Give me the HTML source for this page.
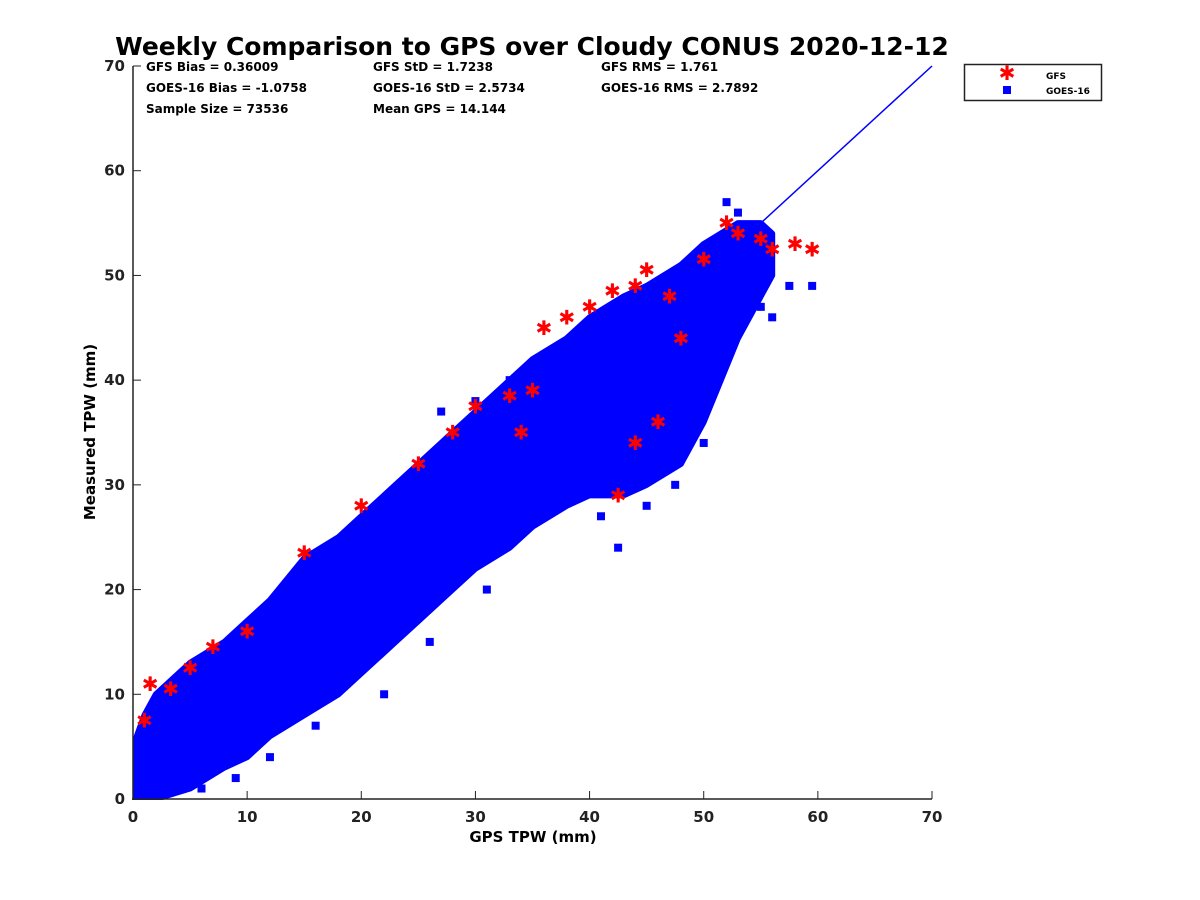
<!DOCTYPE html>
<html><head><meta charset="utf-8"><style>
body{margin:0;background:#fff;}
svg{display:block;font-family:"DejaVu Sans","Liberation Sans",sans-serif;font-weight:bold;}
</style></head><body>
<svg id="chart" width="1200" height="900">
<defs><clipPath id="pc"><rect x="133" y="40" width="900" height="760"/></clipPath></defs>
<text x="532" y="55" text-anchor="middle" font-size="25">Weekly Comparison to GPS over Cloudy CONUS 2020-12-12</text>
<g id="plot" clip-path="url(#pc)"></g>
<g id="axes"></g>
<g font-size="12">
<text x="146" y="71">GFS Bias = 0.36009</text>
<text x="146" y="92">GOES-16 Bias = -1.0758</text>
<text x="146" y="113">Sample Size = 73536</text>
<text x="373" y="71">GFS StD = 1.7238</text>
<text x="373" y="92">GOES-16 StD = 2.5734</text>
<text x="373" y="113">Mean GPS = 14.144</text>
<text x="601" y="71">GFS RMS = 1.761</text>
<text x="601" y="92">GOES-16 RMS = 2.7892</text>
</g>
<text x="533" y="842" text-anchor="middle" font-size="15">GPS TPW (mm)</text>
<text transform="translate(95,432) rotate(-90)" text-anchor="middle" font-size="15">Measured TPW (mm)</text>
<g>
<rect x="964.5" y="64.5" width="137" height="36" fill="#fff" stroke="#222" stroke-width="1.5"/>
<text x="1007" y="80" text-anchor="middle" fill="#f00" font-size="20" font-weight="normal">✱</text>
<rect x="1003" y="86" width="8" height="8" fill="#00f"/>
<text x="1046" y="79" font-size="9">GFS</text>
<text x="1046" y="94" font-size="9">GOES-16</text>
</g>
</svg>
<script>
const bandX=[0,1,2,5,8,10,12,15,18,20,23,25,28,30,33,35,38,40,43,45,48,50,53,55,56];
const bandUpper=[5,8,10,13,15,17,19,23,25,27,30,32,35,37,40,42,44,46,48,49,51,53,55,55,54];
const bandLower=[0,0,0,1,3,4,6,8,10,12,15,17,20,22,24,26,28,29,29,30,32,36,44,48,50];
const goesX=[37,42.5,45,47.5,50,57.5,59.5,55,52,38,35,45.5,27,30,33,20,49,41,44,53,56,6,9,12,16,22,26,31,36,47,51];
const goesY=[43,24,28,30,34,49,49,47,57,32,31,32,37,38,40,17,35,27,33,56,46,1,2,4,7,10,15,20,28,42,46];
const gfsX=[1.5,1,3.3,5,7,10,15,20,25,28,30,33,35,38,40,42,44,45,47,50,52,53,55,56,58,59.5,44,42.5,46,48,36,34];
const gfsY=[11,7.5,10.5,12.5,14.5,16,23.5,28,32,35,37.5,38.5,39,46,47,48.5,49,50.5,48,51.5,55,54,53.5,52.5,53,52.5,34,29,36,44,45,35];
const xTicks=[0,10,20,30,40,50,60,70];
const yTicks=[0,10,20,30,40,50,60,70];
const X=v=>133+v*799/70, Y=v=>799-v*733/70;
const NS="http://www.w3.org/2000/svg";
const plot=document.getElementById('plot'), axes=document.getElementById('axes');
function mk(tag,attrs,parent){const e=document.createElementNS(NS,tag);for(const k in attrs)e.setAttribute(k,attrs[k]);parent.appendChild(e);return e;}
let l=mk('line',{x1:X(0),y1:Y(0),x2:X(70),y2:Y(70),stroke:'#00f','stroke-width':1.5},plot);


let pts=bandX.map((x,i)=>X(x)+','+Y(bandUpper[i])).concat(bandX.slice().reverse().map((x,i)=>X(x)+','+Y(bandLower[bandX.length-1-i])));
let band=mk('polygon',{points:pts.join(' '),fill:'#00f',stroke:'#00f','stroke-width':6,'stroke-linejoin':'round'},plot);


goesX.forEach((x,i)=>{const r=mk('rect',{x:X(x)-4,y:Y(goesY[i])-4,width:8,height:8,fill:'#00f'},plot);

});
gfsX.forEach((x,i)=>{const t=mk('text',{x:X(x),y:Y(gfsY[i])+7,'text-anchor':'middle',fill:'#f00','font-size':20,'font-weight':'normal'},plot);t.textContent='✱';

});
mk('line',{x1:133,y1:66,x2:133,y2:800,stroke:'#222','stroke-width':1.5},axes);
mk('line',{x1:132,y1:799,x2:932,y2:799,stroke:'#222','stroke-width':1.5},axes);
xTicks.forEach(v=>{mk('line',{x1:X(v),y1:799,x2:X(v),y2:791,stroke:'#222'},axes);
const t=mk('text',{x:X(v),y:822,'text-anchor':'middle','font-size':15,fill:'#222'},axes);t.textContent=v;

});
yTicks.forEach(v=>{mk('line',{x1:133,y1:Y(v),x2:141,y2:Y(v),stroke:'#222'},axes);
const t=mk('text',{x:125,y:Y(v)+5,'text-anchor':'end','font-size':15,fill:'#222'},axes);t.textContent=v;

});
</script>
</body></html>
